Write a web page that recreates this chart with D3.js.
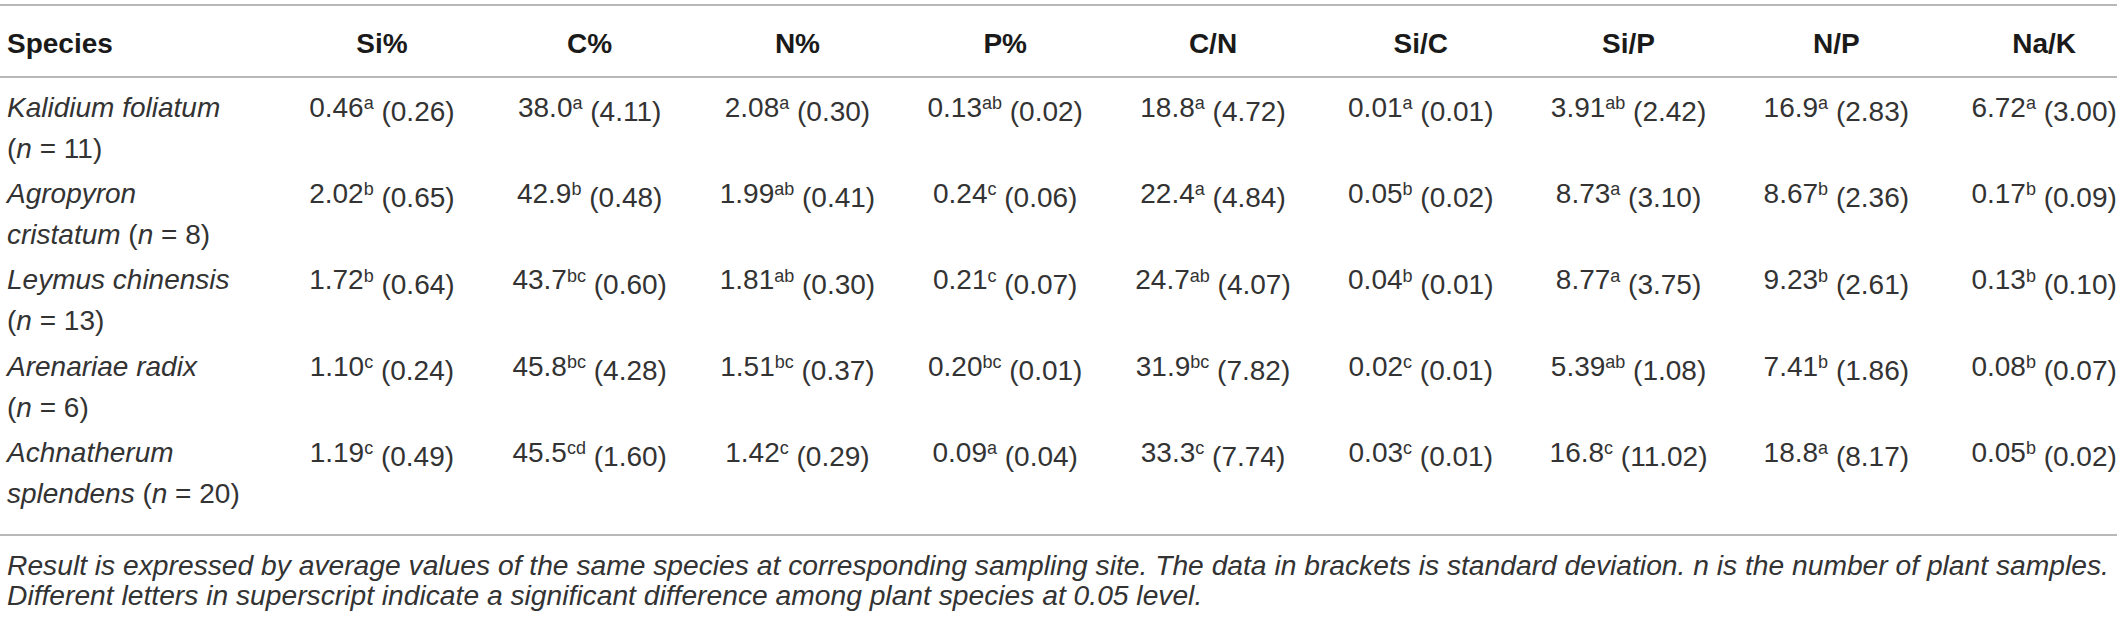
<!DOCTYPE html>
<html>
  <head>
    <meta charset="utf-8">
    <title>Si, C, N, P stoichiometry of plant species</title>
    <script src="https://cdnjs.cloudflare.com/ajax/libs/d3/7.8.5/d3.min.js"></script>
    <style type="text/css">
    body { margin: 0; background: #fff; }
    svg text { font-family: "Liberation Sans", Arial, Helvetica, sans-serif; }
    .head { font-weight: 700; fill: #1a1a1a; font-size: 28px; }
    .cell { fill: #333; font-size: 28px; }
    .note { fill: #333; font-style: italic; }
    .rule { stroke: #a0a0a0; stroke-width: 1.6px; }
    </style>
  </head>
  <body>
  <script type="text/javascript">

    // column headers
    var columns = ["Si%", "C%", "N%", "P%", "C/N", "Si/C", "Si/P", "N/P", "Na/K"];

    // species, split in two printed lines: [italic name part, rest]
    var speciesLine1 = ["Kalidium foliatum", "Agropyron", "Leymus chinensis", "Arenariae radix", "Achnatherum"];
    var speciesLine2 = ["", "cristatum ", "", "", "splendens "];
    var sampleN = [11, 8, 13, 6, 20];

    // mean values per species (rows) and column
    var means = [
      ["0.46", "38.0", "2.08", "0.13", "18.8", "0.01", "3.91", "16.9", "6.72"],
      ["2.02", "42.9", "1.99", "0.24", "22.4", "0.05", "8.73", "8.67", "0.17"],
      ["1.72", "43.7", "1.81", "0.21", "24.7", "0.04", "8.77", "9.23", "0.13"],
      ["1.10", "45.8", "1.51", "0.20", "31.9", "0.02", "5.39", "7.41", "0.08"],
      ["1.19", "45.5", "1.42", "0.09", "33.3", "0.03", "16.8", "18.8", "0.05"]
    ];

    // significance letters (superscript)
    var letters = [
      ["a", "a", "a", "ab", "a", "a", "ab", "a", "a"],
      ["b", "b", "ab", "c", "a", "b", "a", "b", "b"],
      ["b", "bc", "ab", "c", "ab", "b", "a", "b", "b"],
      ["c", "bc", "bc", "bc", "bc", "c", "ab", "b", "b"],
      ["c", "cd", "c", "a", "c", "c", "c", "a", "b"]
    ];

    // standard deviations
    var sds = [
      ["0.26", "4.11", "0.30", "0.02", "4.72", "0.01", "2.42", "2.83", "3.00"],
      ["0.65", "0.48", "0.41", "0.06", "4.84", "0.02", "3.10", "2.36", "0.09"],
      ["0.64", "0.60", "0.30", "0.07", "4.07", "0.01", "3.75", "2.61", "0.10"],
      ["0.24", "4.28", "0.37", "0.01", "7.82", "0.01", "1.08", "1.86", "0.07"],
      ["0.49", "1.60", "0.29", "0.04", "7.74", "0.01", "11.02", "8.17", "0.02"]
    ];

    var footnotes = [
      "Result is expressed by average values of the same species at corresponding sampling site. The data in brackets is standard deviation. n is the number of plant samples.",
      "Different letters in superscript indicate a significant difference among plant species at 0.05 level."
    ];

    var width = 2125, height = 620;

    var svg = d3.select("body").append("svg")
      .attr("width", width)
      .attr("height", height);

    var x = d3.scaleBand()
      .domain(columns)
      .range([278, 2148]);

    var y = d3.scalePoint()
      .domain(d3.range(speciesLine1.length))
      .range([107, 452]);

    var lineGap = 41;
    var leftX = 7;

    // horizontal rules
    svg.selectAll(".rule")
      .data([5, 77, 535])
      .enter().append("line")
        .attr("class", "rule")
        .attr("x1", 0)
        .attr("x2", 2117)
        .attr("y1", function(d){ return d; })
        .attr("y2", function(d){ return d; });

    // header row
    svg.append("text")
      .attr("class", "head")
      .attr("x", leftX)
      .attr("y", 43)
      .attr("dy", "0.35em")
      .text("Species");

    svg.selectAll(".colhead")
      .data(columns)
      .enter().append("text")
        .attr("class", "head colhead")
        .attr("x", function(d){ return x(d) + x.bandwidth() / 2; })
        .attr("y", 43)
        .attr("dy", "0.35em")
        .attr("text-anchor", "middle")
        .text(function(d){ return d; });

    // species column
    var sp = svg.selectAll(".species")
      .data(speciesLine1)
      .enter().append("g")
        .attr("class", "species");

    sp.append("text")
      .attr("class", "cell")
      .attr("x", leftX)
      .attr("y", function(d, i){ return y(i); })
      .attr("dy", "0.35em")
      .style("font-style", "italic")
      .text(function(d){ return d; });

    sp.append("text")
      .attr("class", "cell")
      .attr("x", leftX)
      .attr("y", function(d, i){ return y(i) + lineGap; })
      .attr("dy", "0.35em")
      .each(function(d, i){
        var t = d3.select(this);
        if (speciesLine2[i]) t.append("tspan").style("font-style", "italic").text(speciesLine2[i]);
        t.append("tspan").text("(");
        t.append("tspan").style("font-style", "italic").text("n");
        t.append("tspan").text(" = " + sampleN[i] + ")");
      });

    // value cells
    means.forEach(function(row, i){
      svg.selectAll(".val" + i)
        .data(row)
        .enter().append("text")
          .attr("class", "cell val" + i)
          .attr("x", function(d, j){ return x(columns[j]) + x.bandwidth() / 2; })
          .attr("y", y(i))
          .attr("dy", "0.35em")
          .attr("text-anchor", "middle")
          .each(function(d, j){
            var t = d3.select(this);
            t.append("tspan").text(d);
            t.append("tspan")
              .attr("dy", "-0.42em")
              .style("font-size", "18px")
              .text(letters[i][j]);
            t.append("tspan")
              .attr("dy", "0.42em")
              .text(" (" + sds[i][j] + ")");
          });
    });

    // footnotes, sized so the first line fills the table width
    var notes = svg.selectAll(".note")
      .data(footnotes)
      .enter().append("text")
        .attr("class", "note")
        .attr("x", leftX)
        .attr("y", function(d, i){ return 565 + i * 30; })
        .attr("dy", "0.35em")
        .style("font-size", "25px")
        .text(function(d){ return d; });

    var len = notes.node().getComputedTextLength();
    notes.style("font-size", (25 * 2103 / len) + "px");

    </script>
  </body>
</html>
